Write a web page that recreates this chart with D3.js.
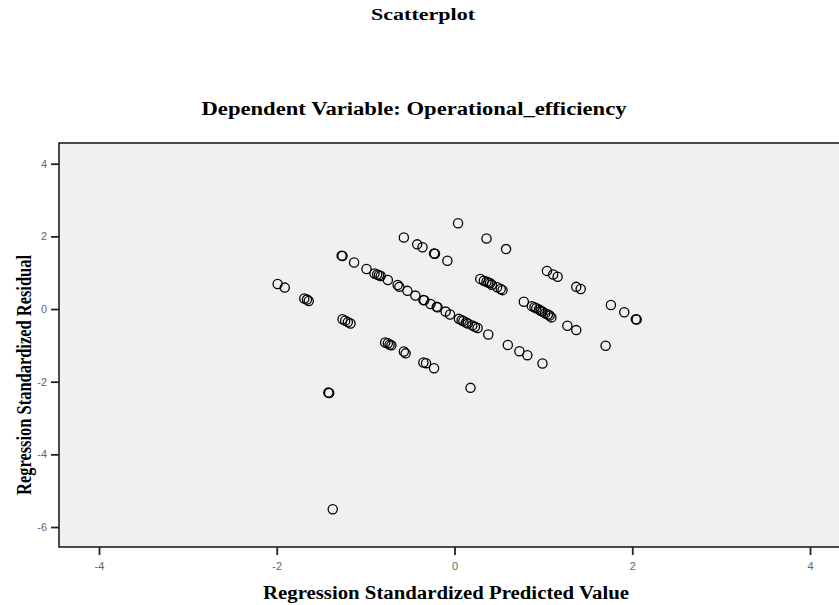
<!DOCTYPE html>
<html>
<head>
<meta charset="utf-8">
<script src="https://cdn.jsdelivr.net/npm/d3@7"></script>
<style>
  html, body { margin: 0; padding: 0; background: #ffffff; }
  svg { display: block; }
</style>
</head>
<body>
<svg id="chart" width="839" height="605"></svg>
<script>
// ---- data ----
const predicted = [
  -1.99, -1.91, -1.69, -1.66, -1.64,
  -1.27, -1.26, -1.13, -0.99, -0.90, -0.87, -0.85, -0.83, -0.75, -0.64, -0.62, -0.53, -0.44,
  -0.35, -0.34, -0.27, -0.20, -0.19, -0.10, -0.05, 0.05, 0.08, 0.10, 0.13, 0.15, 0.20, 0.23, 0.26,
  0.38, 0.60, 0.73, 0.82, 0.99,
  -0.57, -0.42, -0.36, -0.23, -0.22, -0.08, 0.04, 0.36, 0.58,
  0.29, 0.33, 0.36, 0.38, 0.40, 0.42, 0.48, 0.52, 0.54,
  0.78, 0.87, 0.90, 0.92, 0.95, 0.97, 0.99, 1.02, 1.05, 1.07, 1.09,
  1.04, 1.11, 1.16, 1.37, 1.42, 1.27, 1.37, 1.76, 1.91, 2.04, 2.05, 1.70,
  -1.26, -1.23, -1.20, -1.17, -0.78, -0.75, -0.73, -0.71, -0.57, -0.55,
  -0.35, -0.32, -0.23, -1.42, -1.41, 0.18, -1.37
];
const residual = [
  0.69, 0.59, 0.29, 0.26, 0.22,
  1.47, 1.46, 1.28, 1.10, 0.98, 0.95, 0.93, 0.91, 0.80, 0.66, 0.61, 0.50, 0.37,
  0.25, 0.24, 0.14, 0.06, 0.05, -0.07, -0.15, -0.27, -0.31, -0.33, -0.37, -0.40, -0.45, -0.49, -0.52,
  -0.70, -0.99, -1.16, -1.27, -1.50,
  1.97, 1.78, 1.70, 1.53, 1.52, 1.33, 2.36, 1.94, 1.65,
  0.83, 0.78, 0.75, 0.73, 0.71, 0.67, 0.60, 0.55, 0.52,
  0.20, 0.08, 0.05, 0.02, -0.01, -0.05, -0.07, -0.12, -0.15, -0.18, -0.23,
  1.05, 0.95, 0.89, 0.61, 0.55, -0.46, -0.58, 0.11, -0.09, -0.28, -0.29, -1.01,
  -0.28, -0.32, -0.36, -0.40, -0.92, -0.94, -0.98, -1.00, -1.17, -1.22,
  -1.47, -1.49, -1.63, -2.30, -2.31, -2.17, -5.51
];
const xTicks = [-4, -2, 0, 2, 4];
const yTicks = [4, 2, 0, -2, -4, -6];
const xDomain = [-4.45, 4.45];
const yDomain = [-6.55, 4.57];

const titleText = "Scatterplot";
const subtitleText = "Dependent Variable: Operational_efficiency";
const xLabel = "Regression Standardized Predicted Value";
const yLabel = "Regression Standardized Residual";

// ---- drawing ----
const svg = d3.select("#chart");
const plot = { left: 59, right: 850, top: 143, bottom: 547 };

const x = d3.scaleLinear().domain(xDomain).range([plot.left, plot.right]);
const y = d3.scaleLinear().domain(yDomain).range([plot.bottom, plot.top]);

const serif = "'Liberation Serif', 'Times New Roman', serif";
const sans = "'Liberation Sans', Arial, sans-serif";

// plot background
svg.append("rect")
  .attr("x", plot.left).attr("y", plot.top)
  .attr("width", plot.right - plot.left).attr("height", plot.bottom - plot.top)
  .attr("fill", "#f0f0f0")
  .attr("stroke", "#000").attr("stroke-width", 1.4);

// axes
const xAxis = svg.append("g")
  .attr("transform", `translate(0,${plot.bottom})`)
  .call(d3.axisBottom(x).tickValues(xTicks).tickFormat(d3.format("d")).tickSize(8).tickPadding(7));
const yAxis = svg.append("g")
  .attr("transform", `translate(${plot.left},0)`)
  .call(d3.axisLeft(y).tickValues(yTicks).tickFormat(d3.format("d")).tickSize(8).tickPadding(4));

[xAxis, yAxis].forEach(g => {
  g.select(".domain").remove();
  g.selectAll(".tick line").attr("stroke", "#222").attr("stroke-width", 1.8);
  g.selectAll(".tick text")
    .attr("fill", "#666")
    .style("font-family", sans)
    .style("font-size", "11px");
});
// reference uses a plain hyphen for negatives
svg.selectAll(".tick text").text(d => String(d));

// points
svg.append("g")
  .selectAll("circle")
  .data(predicted.map((p, i) => ({ p, r: residual[i] })))
  .join("circle")
  .attr("cx", d => x(d.p))
  .attr("cy", d => y(d.r))
  .attr("r", 4.6)
  .attr("fill", "none")
  .attr("stroke", "#000")
  .attr("stroke-width", 1.3);

// titles
svg.append("text")
  .attr("x", 423).attr("y", 20)
  .attr("text-anchor", "middle")
  .style("font-family", serif).style("font-weight", "bold").style("font-size", "17px")
  .attr("textLength", 104).attr("lengthAdjust", "spacingAndGlyphs")
  .text(titleText);

svg.append("text")
  .attr("x", 414).attr("y", 115)
  .attr("text-anchor", "middle")
  .style("font-family", serif).style("font-weight", "bold").style("font-size", "18px")
  .attr("textLength", 425).attr("lengthAdjust", "spacingAndGlyphs")
  .text(subtitleText);

svg.append("text")
  .attr("x", 446).attr("y", 599)
  .attr("text-anchor", "middle")
  .style("font-family", serif).style("font-weight", "bold").style("font-size", "18px")
  .attr("textLength", 366).attr("lengthAdjust", "spacingAndGlyphs")
  .text(xLabel);

svg.append("text")
  .attr("transform", "translate(31,375) rotate(-90)")
  .attr("text-anchor", "middle")
  .style("font-family", serif).style("font-weight", "bold").style("font-size", "20px")
  .attr("textLength", 240).attr("lengthAdjust", "spacingAndGlyphs")
  .text(yLabel);
</script>
</body>
</html>
